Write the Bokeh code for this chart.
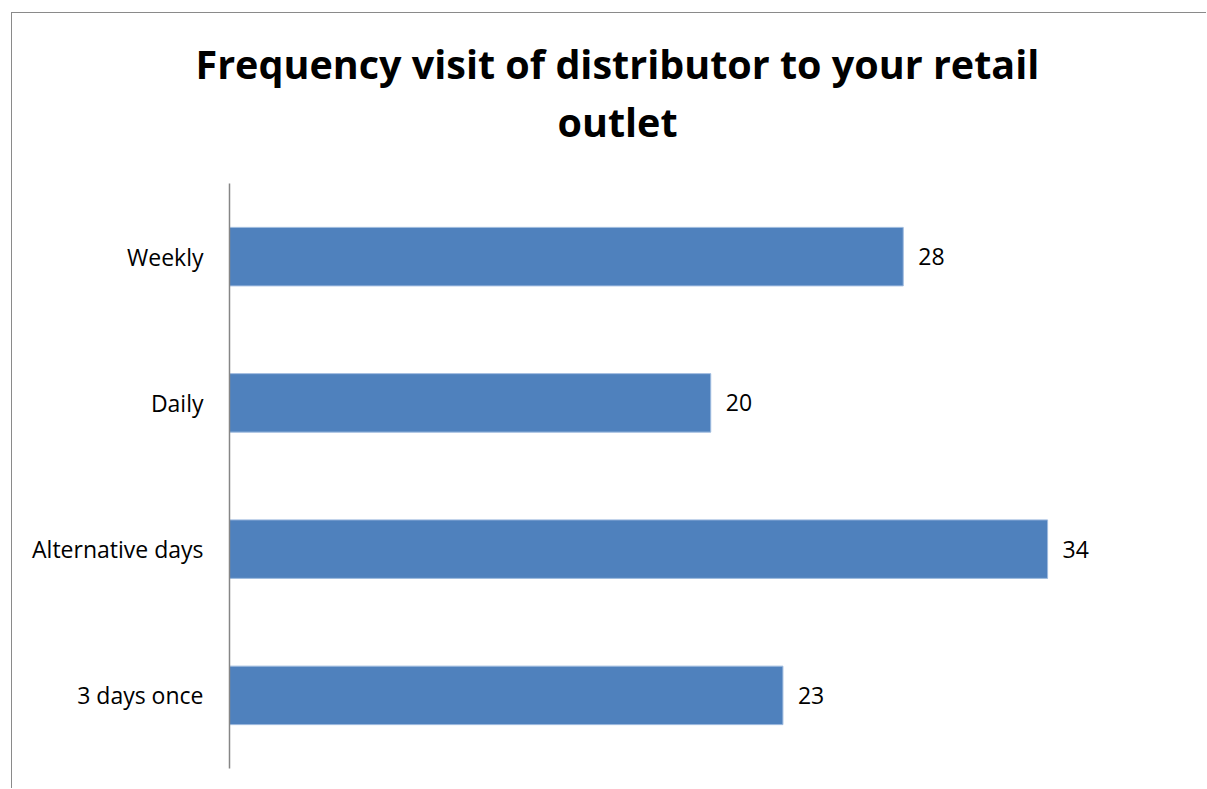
from bokeh.plotting import figure
from bokeh.models import Range1d, FactorRange, Title, ColumnDataSource
from bokeh.core.properties import value
from bokeh.embed import file_html
from bokeh.resources import INLINE

categories = ["3 days once", "Alternative days", "Daily", "Weekly"]
counts = [23, 34, 20, 28]
title_line1 = "Frequency visit of distributor to your retail"
title_line2 = "outlet"

FONT = "Open Sans"
BAR = "#4F81BD"

src = ColumnDataSource(dict(cat=categories, val=counts, lab=[str(v) for v in counts]))

p = figure(width=1195, height=776, output_backend="svg", toolbar_location=None,
           y_range=FactorRange(*categories), x_range=Range1d(0, 39.98),
           min_border_left=217, min_border_top=170, min_border_bottom=21, min_border_right=16)
p.margin = (12, 0, 0, 11)
p.styles = {"border-left": "1px solid #8a8a8a", "border-top": "1px solid #8a8a8a"}

p.hbar(y="cat", right="val", left=0, height=0.4, source=src,
       fill_color=BAR, line_color="#9fbbdf", line_width=1)
p.text(x="val", y="cat", text="lab", source=src, x_offset=15,
       text_baseline="middle", text_align="left",
       text_font=value(FONT), text_font_size="23px", text_color="#000000")

p.xaxis.visible = False
p.xgrid.visible = False
p.ygrid.visible = False
p.outline_line_color = None

ax = p.yaxis[0]
ax.axis_line_color = "#868686"
ax.axis_line_width = 1.5
ax.major_tick_line_color = None
ax.minor_tick_line_color = None
ax.major_label_standoff = 20
ax.major_label_text_font = FONT
ax.major_label_text_font_size = "23px"
ax.major_label_text_color = "#000000"

t2 = Title(text=title_line2, align="left", offset=328, text_font=FONT,
           text_font_size="39.5px", text_font_style="bold", text_color="#000000", standoff=69)
t1 = Title(text=title_line1, align="left", offset=-34, text_font=FONT,
           text_font_size="39.5px", text_font_style="bold", text_color="#000000", standoff=-64)
p.add_layout(t2, "above")
p.add_layout(t1, "above")

open("out.html", "w").write(file_html(p, INLINE))
